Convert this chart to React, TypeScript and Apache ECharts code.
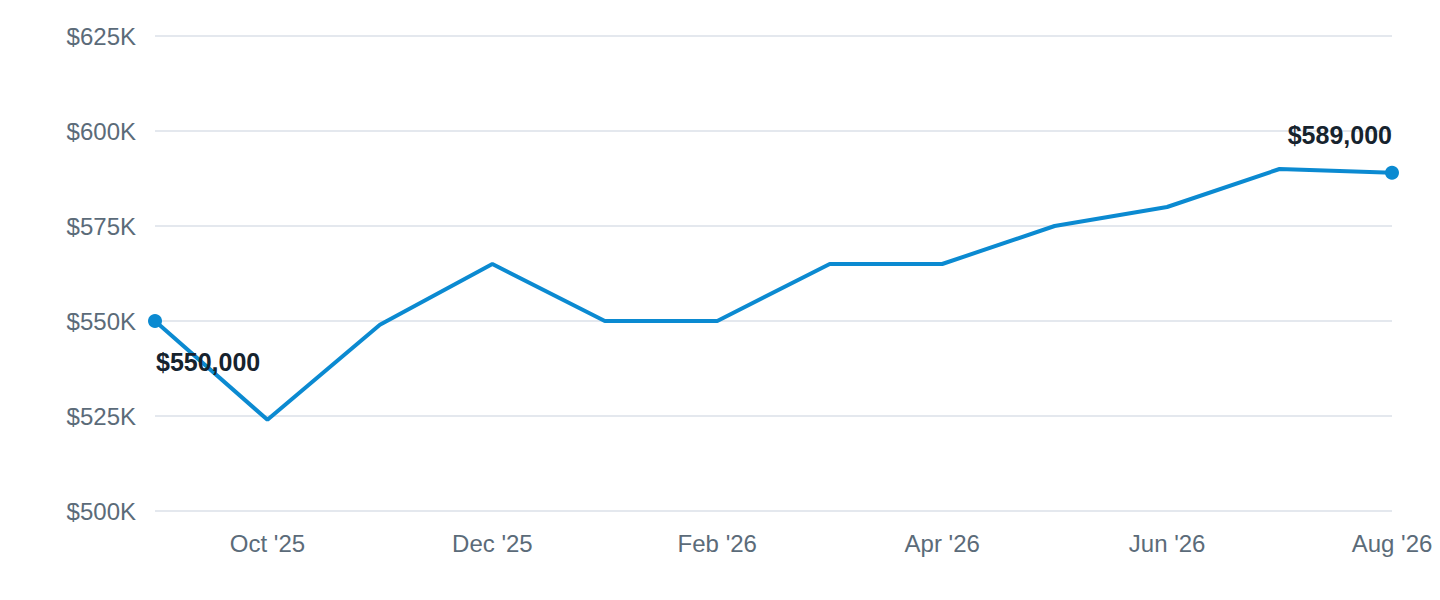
import React, { useEffect, useRef } from "react";
import * as echarts from "echarts";

const categories = [
  "Sep '25", "Oct '25", "Nov '25", "Dec '25", "Jan '26", "Feb '26",
  "Mar '26", "Apr '26", "May '26", "Jun '26", "Jul '26", "Aug '26",
];
const values = [550000, 524000, 549000, 565000, 550000, 550000, 565000, 565000, 575000, 580000, 590000, 589000];
const yMin = 500000;
const yMax = 625000;
const yInterval = 25000;

const LINE = "#0b8ad1";
const AXIS_TEXT = "#5b6b79";
const LABEL_TEXT = "#16232e";
const FONT = "'Liberation Sans', Arial, Helvetica, sans-serif";

const fmtK = (v: number) => "$" + Math.round(v / 1000) + "K";
const fmtFull = (v: number) => "$" + v.toLocaleString("en-US");

export default function App() {
  const ref = useRef<HTMLDivElement>(null);
  useEffect(() => {
    if (!ref.current) return;
    const chart = echarts.init(ref.current, undefined, { renderer: "svg" });
    const last = values.length - 1;
    const data = values.map((v, i) => {
      if (i === 0) {
        return {
          value: v,
          symbolSize: 14,
          itemStyle: { color: LINE },
          label: {
            show: true,
            position: "bottom",
            align: "left",
            distance: 21,
            offset: [1, 0],
            formatter: () => fmtFull(v),
          },
        };
      }
      if (i === last) {
        return {
          value: v,
          symbolSize: 14,
          itemStyle: { color: LINE },
          label: {
            show: true,
            position: "top",
            align: "right",
            distance: 18,
            formatter: () => fmtFull(v),
          },
        };
      }
      return { value: v, symbol: "none", symbolSize: 0 };
    });
    chart.setOption({
      animation: false,
      grid: { left: 155, right: 48, top: 36, bottom: 89, containLabel: false },
      xAxis: {
        type: "category",
        data: categories,
        boundaryGap: false,
        axisLine: { show: false },
        axisTick: { show: false },
        axisLabel: {
          interval: (i: number) => i % 2 === 1,
          color: AXIS_TEXT,
          fontSize: 24,
          fontFamily: FONT,
          margin: 20,
        },
        splitLine: { show: false },
      },
      yAxis: {
        type: "value",
        min: yMin,
        max: yMax,
        interval: yInterval,
        axisLine: { show: false },
        axisTick: { show: false },
        axisLabel: {
          formatter: fmtK,
          color: AXIS_TEXT,
          fontSize: 24,
          fontFamily: FONT,
          margin: 19,
        },
        splitLine: { lineStyle: { color: "#e4e8ee", width: 2 } },
      },
      series: [
        {
          type: "line",
          data,
          showSymbol: true,
          symbol: "circle",
          lineStyle: { color: LINE, width: 4 },
          itemStyle: { color: LINE },
          label: {
            color: LABEL_TEXT,
            fontSize: 25,
            fontWeight: "bold",
            fontFamily: FONT,
          },
          emphasis: { disabled: true },
        },
      ],
    });
    return () => chart.dispose();
  }, []);
  return (
    <div
      ref={ref}
      style={{ position: "fixed", left: 0, top: 0, width: 1440, height: 600, background: "#fff" }}
    />
  );
}
